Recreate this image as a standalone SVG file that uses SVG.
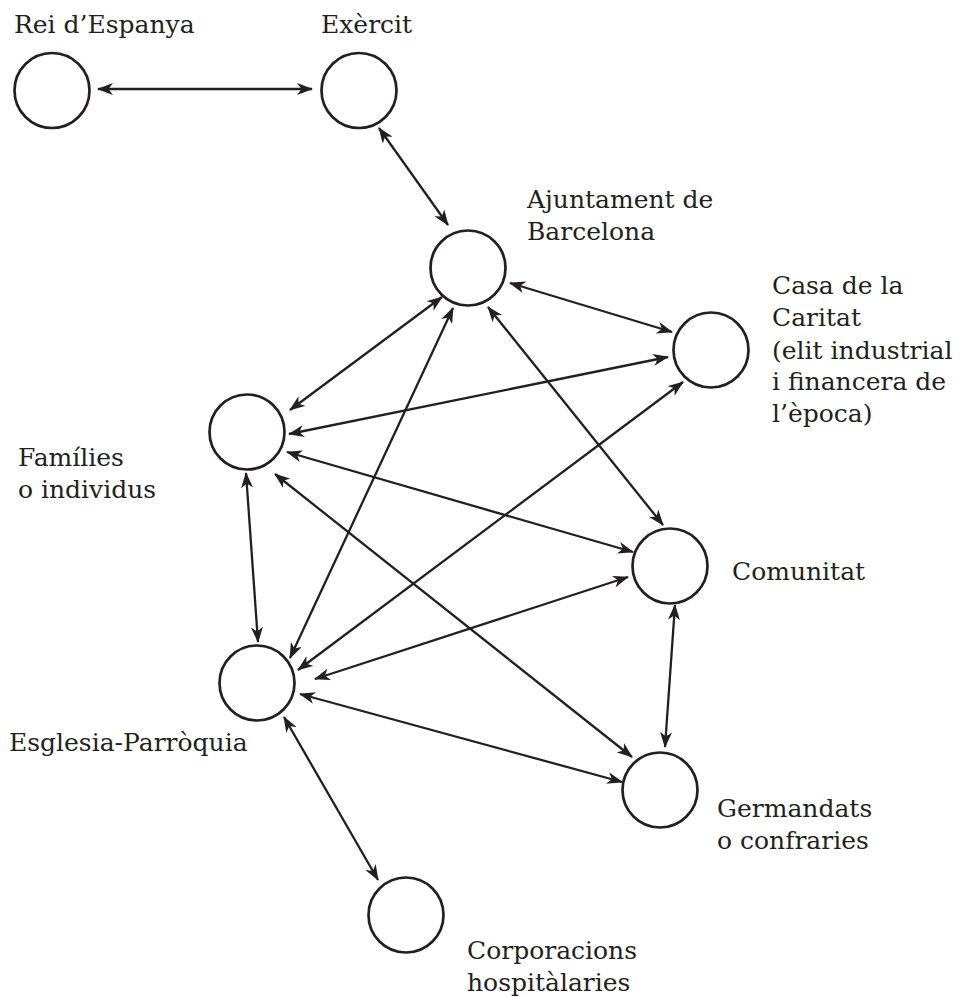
<svg xmlns="http://www.w3.org/2000/svg" width="960" height="997" viewBox="0 0 960 997">
<style>
.node circle{fill:#fff;stroke:#231f20;stroke-width:2.7}
.lbl{font-family:"DejaVu Serif","Liberation Serif",serif;font-size:25px;fill:#231f20}
.edges line{stroke:#231f20;stroke-width:2.3;marker-start:url(#ah);marker-end:url(#ah)}
</style>
<defs>
<marker id="ah" viewBox="0 0 16 12" refX="15" refY="6" markerWidth="16" markerHeight="12" markerUnits="userSpaceOnUse" orient="auto-start-reverse">
<path d="M0,0 L16,6 L0,12 L4.5,6 z" fill="#231f20"/>
</marker>
</defs>
<rect width="960" height="997" fill="#fff"/>
<g id="connectors" class="edges">
<line x1="98" y1="89" x2="312" y2="89"/>
<line x1="379" y1="128" x2="448" y2="225"/>
<line x1="510" y1="283" x2="672" y2="332"/>
<line x1="442" y1="297" x2="290" y2="410"/>
<line x1="453" y1="308" x2="290" y2="658"/>
<line x1="488" y1="307" x2="663" y2="525"/>
<line x1="668" y1="357" x2="289" y2="434"/>
<line x1="683" y1="382" x2="298" y2="670"/>
<line x1="287" y1="452" x2="633" y2="552"/>
<line x1="246" y1="473" x2="258" y2="642"/>
<line x1="275" y1="474" x2="632" y2="757"/>
<line x1="628" y1="577" x2="315" y2="679"/>
<line x1="675" y1="605" x2="665" y2="747"/>
<line x1="300" y1="694" x2="622" y2="782"/>
<line x1="284" y1="717" x2="378" y2="880"/>
</g>
<g id="rei" class="node"><circle cx="52" cy="90.5" r="37.5"/><text class="lbl" x="14" y="33">Rei d’Espanya</text></g>
<g id="exercit" class="node"><circle cx="359" cy="90.5" r="37.5"/><text class="lbl" x="321" y="33">Exèrcit</text></g>
<g id="ajuntament" class="node"><circle cx="468" cy="268" r="37.5"/><text class="lbl" x="527" y="208">Ajuntament de</text><text class="lbl" x="527" y="240">Barcelona</text></g>
<g id="casa" class="node"><circle cx="711" cy="350" r="37.5"/><text class="lbl" x="772" y="294">Casa de la</text><text class="lbl" x="772" y="326">Caritat</text><text class="lbl" x="772" y="359">(elit industrial</text><text class="lbl" x="772" y="390">i financera de</text><text class="lbl" x="772" y="422">l’època)</text></g>
<g id="families" class="node"><circle cx="247" cy="432" r="37.5"/><text class="lbl" x="18" y="466">Famílies</text><text class="lbl" x="18" y="498">o individus</text></g>
<g id="comunitat" class="node"><circle cx="670" cy="566" r="37.5"/><text class="lbl" x="732" y="580">Comunitat</text></g>
<g id="esglesia" class="node"><circle cx="257" cy="683" r="37.5"/><text class="lbl" x="9" y="751">Esglesia-Parròquia</text></g>
<g id="germandats" class="node"><circle cx="660" cy="790" r="37.5"/><text class="lbl" x="717" y="817">Germandats</text><text class="lbl" x="717" y="849">o confraries</text></g>
<g id="corporacions" class="node"><circle cx="406" cy="915" r="37.5"/><text class="lbl" x="467" y="959">Corporacions</text><text class="lbl" x="467" y="991">hospitàlaries</text></g>
</svg>
